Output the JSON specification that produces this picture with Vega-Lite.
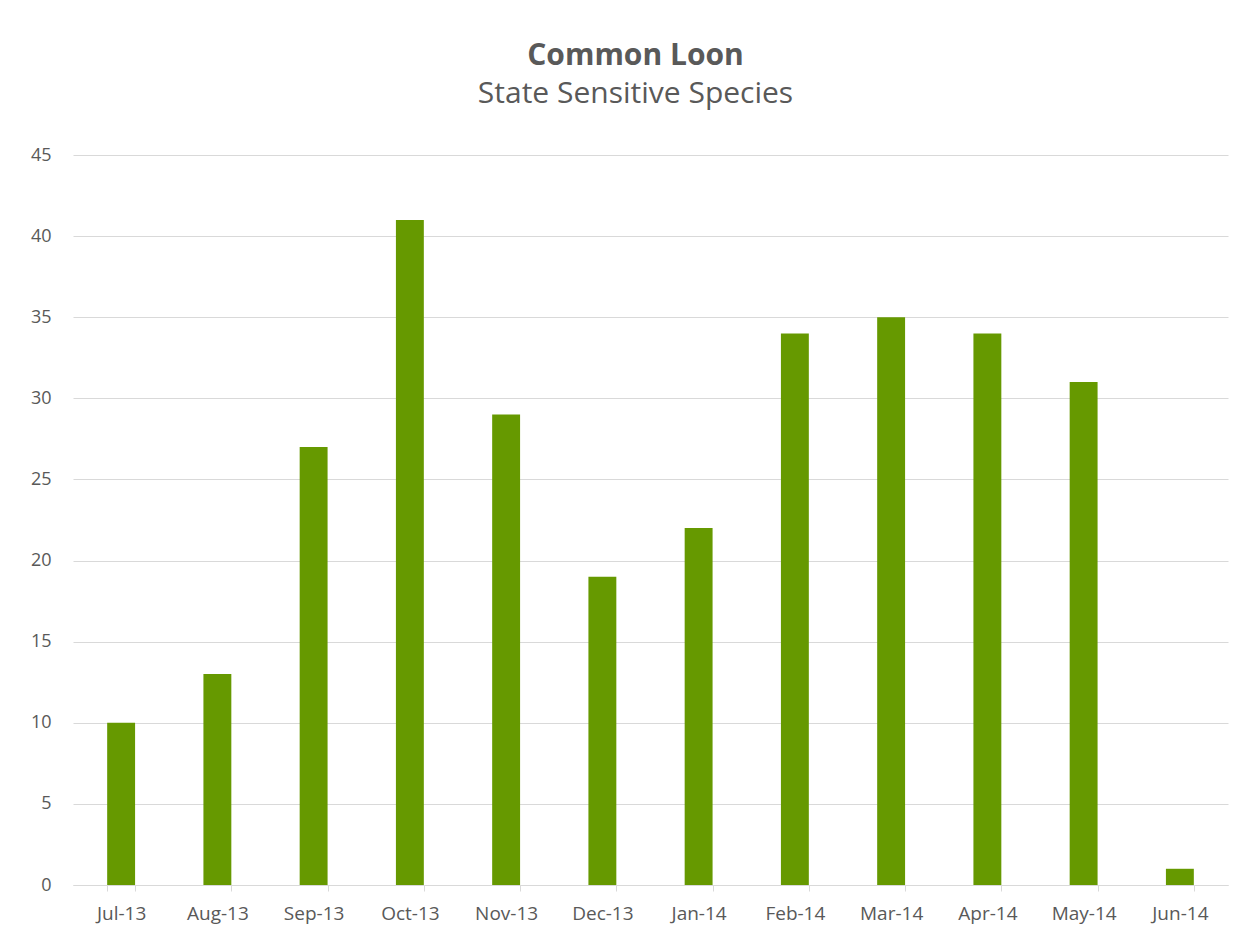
{
  "$schema": "https://vega.github.io/schema/vega-lite/v6.json",
  "autosize": {"type": "none"},
  "padding": {"left": 73, "top": 155, "right": 32, "bottom": 64},
  "width": 1155,
  "height": 730,
  "background": "white",
  "title": {
    "text": "Common Loon",
    "subtitle": "State Sensitive Species",
    "anchor": "middle",
    "dx": -15,
    "font": "Open Sans",
    "fontSize": 30,
    "fontWeight": "bold",
    "color": "#595959",
    "subtitleFont": "Open Sans",
    "subtitleFontSize": 30,
    "subtitleFontWeight": "normal",
    "subtitleColor": "#595959",
    "subtitlePadding": 8,
    "offset": 37
  },
  "data": {
    "values": [
      {"month": "Jul-13", "count": 10},
      {"month": "Aug-13", "count": 13},
      {"month": "Sep-13", "count": 27},
      {"month": "Oct-13", "count": 41},
      {"month": "Nov-13", "count": 29},
      {"month": "Dec-13", "count": 19},
      {"month": "Jan-14", "count": 22},
      {"month": "Feb-14", "count": 34},
      {"month": "Mar-14", "count": 35},
      {"month": "Apr-14", "count": 34},
      {"month": "May-14", "count": 31},
      {"month": "Jun-14", "count": 1}
    ]
  },
  "mark": {"type": "bar", "color": "#669900"},
  "encoding": {
    "x": {
      "field": "month",
      "type": "nominal",
      "sort": null,
      "scale": {"paddingInner": 0.71, "paddingOuter": 0.355},
      "axis": {
        "title": null,
        "labelAngle": 0,
        "labelFont": "Open Sans",
        "labelFontSize": 19,
        "labelColor": "#595959",
        "labelPadding": 13,
        "domainColor": "#d9d9d9",
        "tickColor": "#d9d9d9",
        "tickSize": 6,
        "tickBand": "extent",
        "grid": false
      }
    },
    "y": {
      "field": "count",
      "type": "quantitative",
      "scale": {"domain": [0, 45]},
      "axis": {
        "title": null,
        "values": [0, 5, 10, 15, 20, 25, 30, 35, 40, 45],
        "labelFont": "Open Sans",
        "labelFontSize": 18,
        "labelColor": "#595959",
        "labelPadding": 22,
        "ticks": false,
        "domain": false,
        "gridColor": "#d9d9d9"
      }
    }
  },
  "config": {"view": {"stroke": null}}
}
